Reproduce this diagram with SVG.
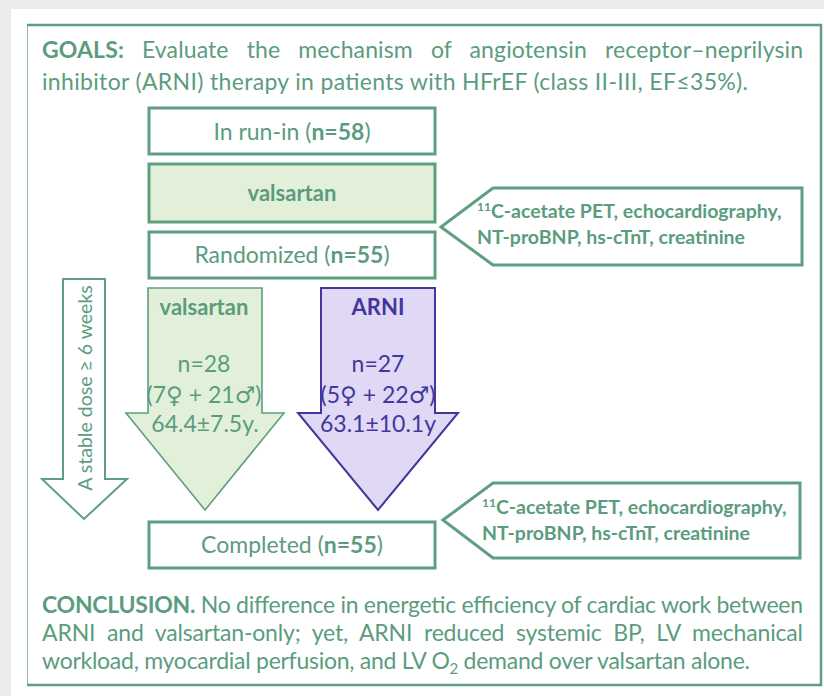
<svg xmlns="http://www.w3.org/2000/svg" width="824" height="696" viewBox="0 0 824 696">
  <style>
    .t { font-family: Lato, "Open Sans", "DejaVu Sans", sans-serif; fill: #5b9c7e; }
    .big { font-size: 23px; }
    .b { font-weight: bold; }
    .box { fill: #ffffff; stroke: #5e9f82; stroke-width: 3; }
    .boxg { fill: #e2f0d9; stroke: #5e9f82; stroke-width: 3; }
    .call { fill: #ffffff; stroke: #5e9f82; stroke-width: 3; stroke-linejoin: miter; }
    .cap { font-size: 19.5px; font-weight: bold; }
    .p { fill: #41379c; }
  </style>

  <!-- page -->
  <rect x="0" y="0" width="824" height="696" fill="#ebebeb"/>
  <rect x="11" y="9" width="813" height="687" fill="#ffffff"/>

  <!-- outer frame -->
  <rect x="27.5" y="25" width="793.5" height="660" fill="none" stroke="#8fbfa8" stroke-width="1"/>
  <path d="M27 25 H821 V685 H27" fill="none" stroke="#5e9f82" stroke-width="2.5"/>

  <!-- goals -->
  <g id="goals">
    <text class="t big" x="42" y="58" word-spacing="12" textLength="761" lengthAdjust="spacing"><tspan class="b">GOALS:</tspan> Evaluate the mechanism of angiotensin receptor–neprilysin</text>
    <text class="t big" x="42" y="90" textLength="706" lengthAdjust="spacing">inhibitor (ARNI) therapy in patients with HFrEF (class II-III, EF≤35%).</text>
  </g>

  <!-- flow boxes -->
  <g id="run-in">
    <rect class="box" x="149" y="108" width="286" height="46"/>
    <text class="t big" x="292" y="140" text-anchor="middle">In run-in (<tspan class="b">n=58</tspan>)</text>
  </g>

  <g id="valsartan-runin">
    <rect class="boxg" x="149" y="164" width="286" height="58"/>
    <text class="t b" x="292" y="201" font-size="22" text-anchor="middle">valsartan</text>
  </g>

  <g id="randomized">
    <rect class="box" x="149" y="232" width="286" height="46"/>
    <text class="t big" x="292" y="263" text-anchor="middle">Randomized (<tspan class="b">n=55</tspan>)</text>
  </g>

  <g id="completed">
    <rect class="box" x="149" y="522" width="286" height="46"/>
    <text class="t big" x="292" y="553" text-anchor="middle">Completed (<tspan class="b">n=55</tspan>)</text>
  </g>

  <!-- duration arrow -->
  <g id="stable-dose">
    <polygon points="63,279 105,279 105,479 127,479 84,519 42,479 63,479" fill="#ffffff" stroke="#5e9f82" stroke-width="2"/>
    <text class="t" font-size="19.5" transform="translate(92,388) rotate(-90)" text-anchor="middle">A stable dose ≥ 6 weeks</text>
  </g>

  <!-- treatment arms -->
  <g id="arm-valsartan">
    <polygon points="148,288 262,288 262,413 284,413 205,510 126,413 148,413" fill="#e2f0d9" stroke="#5e9f82" stroke-width="1.6"/>
    <text class="t b" x="204" y="315" font-size="22" text-anchor="middle">valsartan</text>
    <text class="t big" x="204" y="372" text-anchor="middle">n=28</text>
    <text class="t big" x="204" y="403" text-anchor="middle">(7♀ + 21♂)</text>
    <text class="t big" x="205" y="432" text-anchor="middle">64.4±7.5y.</text>
  </g>

  <g id="arm-arni">
    <polygon points="321,288 435,288 435,413 458,413 378,510 298,413 321,413" fill="#e0d8f4" stroke="#41379c" stroke-width="2"/>
    <text class="t p b" x="378" y="315" font-size="22" text-anchor="middle">ARNI</text>
    <text class="t p big" x="378" y="372" text-anchor="middle">n=27</text>
    <text class="t p big" x="378" y="403" text-anchor="middle">(5♀ + 22♂)</text>
    <text class="t p big" x="378" y="432" text-anchor="middle">63.1±10.1y</text>
  </g>

  <!-- measurement callouts -->
  <g id="baseline-measures">
    <polygon class="call" points="441,227 493,188 802,188 802,265 493,265"/>
    <text class="t cap" x="477" y="218"><tspan font-size="12" dy="-7">11</tspan><tspan dy="7">C-acetate PET, echocardiography,</tspan></text>
    <text class="t cap" x="477" y="244">NT-proBNP, hs-cTnT, creatinine</text>
  </g>

  <g id="final-measures">
    <polygon class="call" points="443,520 493,483 800,483 800,558 493,558"/>
    <text class="t cap" x="482" y="514"><tspan font-size="12" dy="-7">11</tspan><tspan dy="7">C-acetate PET, echocardiography,</tspan></text>
    <text class="t cap" x="482" y="540">NT-proBNP, hs-cTnT, creatinine</text>
  </g>

  <!-- conclusion -->
  <g id="conclusion">
    <text class="t big" x="42" y="613" textLength="761" lengthAdjust="spacing"><tspan class="b">CONCLUSION.</tspan> No difference in energetic efficiency of cardiac work between</text>
    <text class="t big" x="42" y="641" word-spacing="6" textLength="761" lengthAdjust="spacing">ARNI and valsartan-only; yet, ARNI reduced systemic BP, LV mechanical</text>
    <text class="t big" x="42" y="669" textLength="708" lengthAdjust="spacing">workload, myocardial perfusion, and LV O<tspan font-size="15" dy="5">2</tspan><tspan dy="-5"> demand over valsartan alone.</tspan></text>
  </g>
</svg>
